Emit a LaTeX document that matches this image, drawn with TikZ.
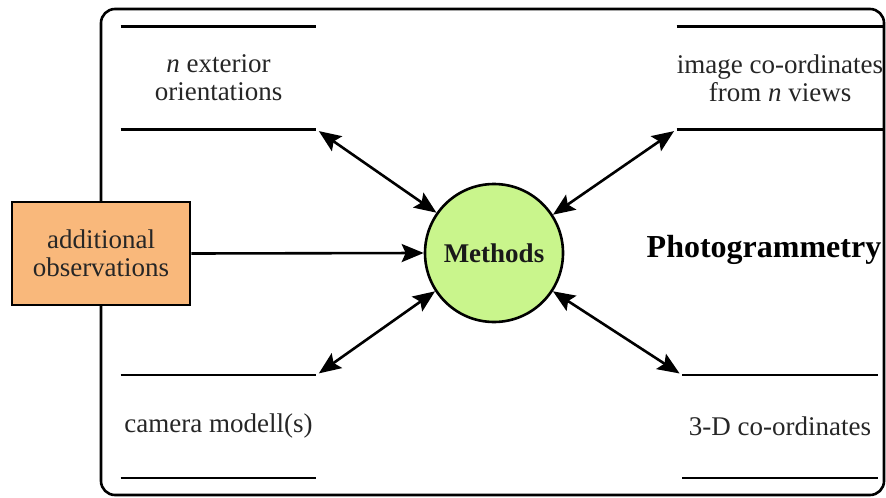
\documentclass[tikz,border=0pt]{standalone}
\usepackage{fontspec}
\setmainfont{Liberation Serif}[BoldFont=* Bold, ItalicFont=* Italic]
\usetikzlibrary{arrows.meta}

\definecolor{methgreen}{RGB}{201,245,140}
\definecolor{obsorange}{RGB}{249,184,123}

\tikzset{
  store/.style={minimum width=97.5pt, minimum height=51pt, align=center, inner sep=0pt, text=black!85},
  link/.style={{Stealth[length=11pt, width=9pt, inset=2pt]}-{Stealth[length=11pt, width=9pt, inset=2pt]}, line width=1.3pt, shorten <=1.5pt},
}

\begin{document}
\begin{tikzpicture}[x=0.5pt, y=-0.5pt, font=\fontsize{13.5}{14}\selectfont]
    \useasboundingbox (0,0) rectangle (886,497);

    % Frame
    \draw[line width=1.3pt, rounded corners=7pt] (101,9) rectangle (884,495);

    % Data stores
    \node[store] (exo) at (218.5,78) {\textit{n} exterior\\orientations};
    \node[store] (img) at (780,78) {image co-ordinates\\from \textit{n} views};
    \node[store] (cam) at (218.5,426.5) {camera modell(s)};
    \node[store] (xyz) at (780,426.5) {3-D co-ordinates};
    \foreach \s in {exo,img,cam,xyz}
        \draw[line width=1.3pt] (\s.north west) -- (\s.north east) (\s.south west) -- (\s.south east);

    % Nodes
    \node[draw, fill=obsorange, line width=1.3pt, minimum width=89pt, minimum height=51.5pt, align=center, text=black!85] (obs) at (101,253.5) {additional\\observations};
    \node[circle, draw, fill=methgreen, line width=1.3pt, minimum size=69pt, inner sep=0pt, font=\fontsize{13.5}{14}\selectfont\bfseries, text=black!90] (meth) at (494,253) {Methods};
    \node[font=\fontsize{16}{18}\selectfont\bfseries] (title) at (764,250) {Photogrammetry};

    % Connectors
    \draw[-{Stealth[length=11pt, width=9pt, inset=2pt]}, line width=1.3pt] (obs.east) -- (meth.west);
    \draw[link] (exo.south east) -- (meth.145);
    \draw[link] (img.south west) -- (meth.33);
    \draw[link] (cam.north east) -- (meth.213);
    \draw[link] (xyz.north west) -- (meth.327);
\end{tikzpicture}
\end{document}
